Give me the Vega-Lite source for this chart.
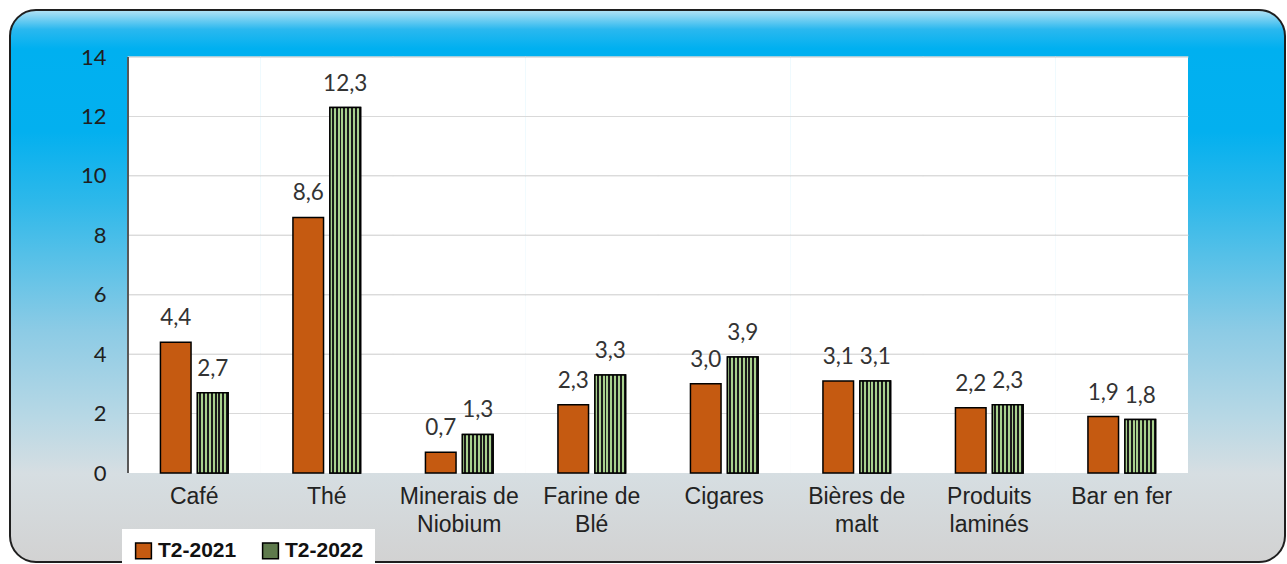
{
  "$schema": "https://vega.github.io/schema/vega-lite/v6.json",
  "width": 1275,
  "height": 552,
  "autosize": {"type": "none"},
  "padding": {"left": 10, "top": 10, "right": 2, "bottom": 2},
  "background": "white",
  "config": {
    "locale": {"number": {"decimal": ",", "thousands": " ", "grouping": [3], "currency": ["", ""]}},
    "view": {
      "fill": {
        "gradient": "linear", "x1": 0, "y1": 0, "x2": 0, "y2": 1,
        "stops": [
          {"offset": 0, "color": "#b5e3f5"},
          {"offset": 0.035, "color": "#2ab8ef"},
          {"offset": 0.07, "color": "#00b0f0"},
          {"offset": 0.22, "color": "#03b0ef"},
          {"offset": 0.345, "color": "#2db8ea"},
          {"offset": 0.58, "color": "#8ccbe5"},
          {"offset": 0.74, "color": "#b8d8e5"},
          {"offset": 0.84, "color": "#d6dee2"},
          {"offset": 1, "color": "#d2d2d2"}
        ]
      },
      "stroke": "#1f1f1f",
      "strokeWidth": 2,
      "cornerRadius": 26
    }
  },
  "data": {
    "values": [
      {"cat": "Café", "serie": "T2-2021", "value": 4.4},
      {"cat": "Café", "serie": "T2-2022", "value": 2.7},
      {"cat": "Thé", "serie": "T2-2021", "value": 8.6},
      {"cat": "Thé", "serie": "T2-2022", "value": 12.3},
      {"cat": "Minerais de Niobium", "serie": "T2-2021", "value": 0.7},
      {"cat": "Minerais de Niobium", "serie": "T2-2022", "value": 1.3},
      {"cat": "Farine de Blé", "serie": "T2-2021", "value": 2.3},
      {"cat": "Farine de Blé", "serie": "T2-2022", "value": 3.3},
      {"cat": "Cigares", "serie": "T2-2021", "value": 3.0},
      {"cat": "Cigares", "serie": "T2-2022", "value": 3.9},
      {"cat": "Bières de malt", "serie": "T2-2021", "value": 3.1},
      {"cat": "Bières de malt", "serie": "T2-2022", "value": 3.1},
      {"cat": "Produits laminés", "serie": "T2-2021", "value": 2.2},
      {"cat": "Produits laminés", "serie": "T2-2022", "value": 2.3},
      {"cat": "Bar en fer", "serie": "T2-2021", "value": 1.9},
      {"cat": "Bar en fer", "serie": "T2-2022", "value": 1.8}
    ]
  },
  "layer": [
    {
      "mark": {"type": "rect", "fill": "white"},
      "encoding": {
        "x": {
          "field": "cat", "type": "nominal", "sort": null,
          "scale": {"paddingInner": 0, "paddingOuter": 0.8113, "align": 0.5488},
          "axis": {
            "orient": "bottom", "offset": -89, "domain": false, "ticks": false, "grid": false,
            "title": null, "labelAngle": 0, "labelFont": "Liberation Sans", "labelFontSize": 23,
            "labelColor": "#222222", "labelPadding": 12, "labelLineHeight": 28, "labelBaseline": "top",
            "labelExpr": "datum.label == 'Minerais de Niobium' ? ['Minerais de', 'Niobium'] : datum.label == 'Farine de Blé' ? ['Farine de', 'Blé'] : datum.label == 'Bières de malt' ? ['Bières de', 'malt'] : datum.label == 'Produits laminés' ? ['Produits', 'laminés'] : datum.label"
          }
        },
        "y": {"datum": 0, "type": "quantitative"},
        "y2": {"datum": 14}
      }
    },
    {"mark": {"type": "tick", "size": 133, "thickness": 1, "color": "#d9d9d9", "opacity": 1},
     "encoding": {"x": {"field": "cat", "type": "nominal", "sort": null}, "y": {"datum": 2, "type": "quantitative"}}},
    {"mark": {"type": "tick", "size": 133, "thickness": 1, "color": "#d9d9d9", "opacity": 1},
     "encoding": {"x": {"field": "cat", "type": "nominal", "sort": null}, "y": {"datum": 4, "type": "quantitative"}}},
    {"mark": {"type": "tick", "size": 133, "thickness": 1, "color": "#d9d9d9", "opacity": 1},
     "encoding": {"x": {"field": "cat", "type": "nominal", "sort": null}, "y": {"datum": 6, "type": "quantitative"}}},
    {"mark": {"type": "tick", "size": 133, "thickness": 1, "color": "#d9d9d9", "opacity": 1},
     "encoding": {"x": {"field": "cat", "type": "nominal", "sort": null}, "y": {"datum": 8, "type": "quantitative"}}},
    {"mark": {"type": "tick", "size": 133, "thickness": 1, "color": "#d9d9d9", "opacity": 1},
     "encoding": {"x": {"field": "cat", "type": "nominal", "sort": null}, "y": {"datum": 10, "type": "quantitative"}}},
    {"mark": {"type": "tick", "size": 133, "thickness": 1, "color": "#d9d9d9", "opacity": 1},
     "encoding": {"x": {"field": "cat", "type": "nominal", "sort": null}, "y": {"datum": 12, "type": "quantitative"}}},
    {"mark": {"type": "tick", "size": 133, "thickness": 1, "color": "#d9d9d9", "opacity": 1},
     "encoding": {"x": {"field": "cat", "type": "nominal", "sort": null}, "y": {"datum": 14, "type": "quantitative"}}},
    {
      "mark": {"type": "rule", "color": "#595959", "strokeWidth": 1.2},
      "encoding": {
        "x": {"datum": "Café", "type": "nominal", "bandPosition": 0},
        "y": {"datum": 0, "type": "quantitative"},
        "y2": {"datum": 14}
      }
    },
    {
      "mark": {"type": "bar", "stroke": "black", "strokeWidth": 1.5},
      "encoding": {
        "x": {"field": "cat", "type": "nominal", "sort": null},
        "xOffset": {"field": "serie", "type": "nominal", "scale": {"paddingInner": 0.173, "paddingOuter": 0.877}},
        "y": {
          "field": "value", "type": "quantitative",
          "scale": {"domain": [-2.995, 15.582], "nice": false, "zero": false},
          "axis": {
            "values": [0, 2, 4, 6, 8, 10, 12, 14], "offset": -118, "domain": false, "ticks": false,
            "grid": false, "title": null, "labelFont": "Lato", "labelFontSize": 22,
            "labelColor": "#1f1f1f", "labelPadding": 22
          }
        },
        "color": {
          "field": "serie", "type": "nominal",
          "scale": {"domain": ["T2-2021", "T2-2022"], "range": ["#c55a11", "#5e7a4c"]},
          "legend": {
            "orient": "none", "legendX": 112, "legendY": 519, "direction": "horizontal",
            "title": null, "fillColor": "white", "padding": 11,
            "symbolType": "square", "symbolSize": 250, "symbolStrokeColor": "black",
            "symbolStrokeWidth": 1.5, "symbolOpacity": 1,
            "labelFont": "Liberation Sans", "labelFontWeight": "bold", "labelFontSize": 21,
            "labelColor": "#111111", "labelOffset": 4, "columnPadding": 22
          }
        }
      }
    },
    {
      "transform": [{"filter": "datum.serie == 'T2-2022'"}],
      "mark": {
        "type": "bar", "stroke": "black", "strokeWidth": 1.5,
        "fill": {
          "gradient": "linear", "x1": 0, "y1": 0, "x2": 1, "y2": 0,
          "stops": [
            {"offset": 0, "color": "#a9d18e"}, {"offset": 0.0625, "color": "#a9d18e"},
            {"offset": 0.0625, "color": "#1a1a1a"}, {"offset": 0.125, "color": "#1a1a1a"},
            {"offset": 0.125, "color": "#a9d18e"}, {"offset": 0.1875, "color": "#a9d18e"},
            {"offset": 0.1875, "color": "#1a1a1a"}, {"offset": 0.25, "color": "#1a1a1a"},
            {"offset": 0.25, "color": "#a9d18e"}, {"offset": 0.3125, "color": "#a9d18e"},
            {"offset": 0.3125, "color": "#1a1a1a"}, {"offset": 0.375, "color": "#1a1a1a"},
            {"offset": 0.375, "color": "#a9d18e"}, {"offset": 0.4375, "color": "#a9d18e"},
            {"offset": 0.4375, "color": "#1a1a1a"}, {"offset": 0.5, "color": "#1a1a1a"},
            {"offset": 0.5, "color": "#a9d18e"}, {"offset": 0.5625, "color": "#a9d18e"},
            {"offset": 0.5625, "color": "#1a1a1a"}, {"offset": 0.625, "color": "#1a1a1a"},
            {"offset": 0.625, "color": "#a9d18e"}, {"offset": 0.6875, "color": "#a9d18e"},
            {"offset": 0.6875, "color": "#1a1a1a"}, {"offset": 0.75, "color": "#1a1a1a"},
            {"offset": 0.75, "color": "#a9d18e"}, {"offset": 0.8125, "color": "#a9d18e"},
            {"offset": 0.8125, "color": "#1a1a1a"}, {"offset": 0.875, "color": "#1a1a1a"},
            {"offset": 0.875, "color": "#a9d18e"}, {"offset": 0.9375, "color": "#a9d18e"},
            {"offset": 0.9375, "color": "#1a1a1a"}, {"offset": 1, "color": "#1a1a1a"}
          ]
        }
      },
      "encoding": {
        "x": {"field": "cat", "type": "nominal", "sort": null},
        "xOffset": {"field": "serie", "type": "nominal"},
        "y": {"field": "value", "type": "quantitative"}
      }
    },
    {
      "mark": {"type": "text", "baseline": "alphabetic", "dy": -17, "font": "Lato", "fontSize": 22.5, "color": "#333333"},
      "encoding": {
        "x": {"field": "cat", "type": "nominal", "sort": null},
        "xOffset": {"field": "serie", "type": "nominal"},
        "y": {"field": "value", "type": "quantitative"},
        "text": {"field": "value", "type": "quantitative", "format": ".1f"}
      }
    }
  ]
}
